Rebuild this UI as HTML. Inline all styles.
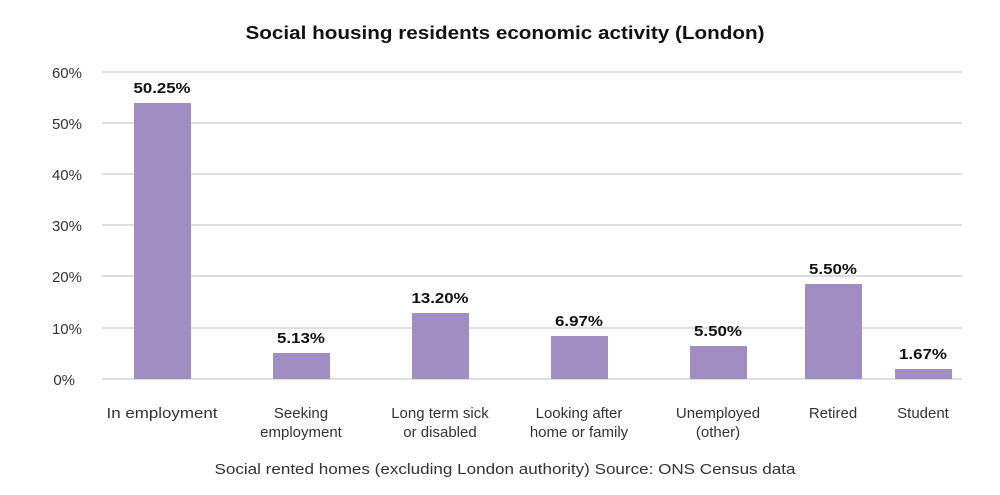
<!DOCTYPE html>
<html><head><meta charset="utf-8"><style>
body{margin:0;background:#fff;}
text{font-family:"Liberation Sans",sans-serif;}
</style></head><body>
<svg width="1000" height="490" viewBox="0 0 1000 490" xmlns="http://www.w3.org/2000/svg">
<text x="505" y="39" text-anchor="middle" font-size="18" font-weight="bold" fill="#111" textLength="519" lengthAdjust="spacingAndGlyphs">Social housing residents economic activity (London)</text>
<g stroke="#dedede" stroke-width="2">
<line x1="102" x2="962" y1="72" y2="72"/><line x1="102" x2="962" y1="123" y2="123"/>
<line x1="102" x2="962" y1="174" y2="174"/><line x1="102" x2="962" y1="225" y2="225"/>
<line x1="102" x2="962" y1="276" y2="276"/><line x1="102" x2="962" y1="328" y2="328"/>
<line x1="102" x2="962" y1="379" y2="379"/>
</g>
<g font-size="15" fill="#333" text-anchor="end">
<text x="82" y="78">60%</text><text x="82" y="129">50%</text><text x="82" y="180">40%</text>
<text x="82" y="231">30%</text><text x="82" y="282">20%</text><text x="82" y="334">10%</text>
<text x="75" y="385">0%</text>
</g>
<g fill="#a08ec3">
<rect x="134" y="103" width="57" height="276"/>
<rect x="273" y="353" width="57" height="26"/>
<rect x="412" y="313" width="57" height="66"/>
<rect x="551" y="336" width="57" height="43"/>
<rect x="690" y="346" width="57" height="33"/>
<rect x="805" y="284" width="57" height="95"/>
<rect x="895" y="369" width="57" height="10"/>
</g>
<g font-size="15" font-weight="bold" fill="#111" text-anchor="middle">
<text x="162" y="93" textLength="57" lengthAdjust="spacingAndGlyphs">50.25%</text>
<text x="301" y="343" textLength="48" lengthAdjust="spacingAndGlyphs">5.13%</text>
<text x="440" y="303" textLength="57" lengthAdjust="spacingAndGlyphs">13.20%</text>
<text x="579" y="326" textLength="48" lengthAdjust="spacingAndGlyphs">6.97%</text>
<text x="718" y="336" textLength="48" lengthAdjust="spacingAndGlyphs">5.50%</text>
<text x="833" y="274" textLength="48" lengthAdjust="spacingAndGlyphs">5.50%</text>
<text x="923" y="359" textLength="48" lengthAdjust="spacingAndGlyphs">1.67%</text>
</g>
<g font-size="15" fill="#333" text-anchor="middle">
<text x="162" y="418" textLength="111" lengthAdjust="spacingAndGlyphs">In employment</text>
<text x="301" y="418">Seeking</text><text x="301" y="437">employment</text>
<text x="440" y="418">Long term sick</text><text x="440" y="437">or disabled</text>
<text x="579" y="418">Looking after</text><text x="579" y="437">home or family</text>
<text x="718" y="418">Unemployed</text><text x="718" y="437">(other)</text>
<text x="833" y="418">Retired</text>
<text x="923" y="418">Student</text>
</g>
<text x="505" y="474" text-anchor="middle" font-size="15" fill="#333" textLength="581" lengthAdjust="spacingAndGlyphs">Social rented homes (excluding London authority) Source: ONS Census data</text>
</svg>
</body></html>
